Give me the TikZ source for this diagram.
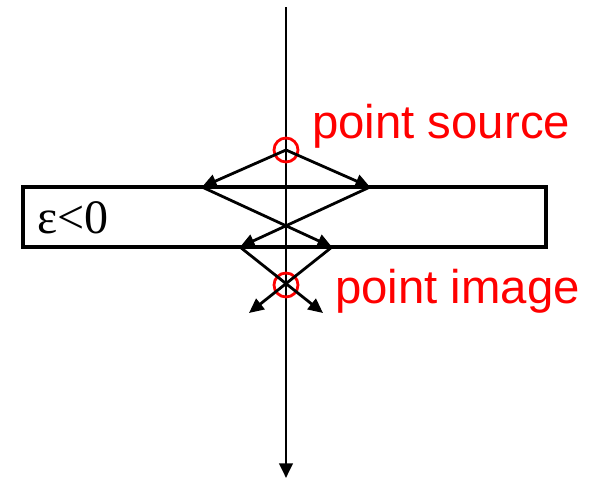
\documentclass[tikz,border=0pt]{standalone}
\usepackage{fontspec}
\setmainfont{Liberation Serif}
\newfontfamily\labelfont{Liberation Sans}
\usepackage{tikz}
\usetikzlibrary{arrows.meta}
\definecolor{marker}{HTML}{FF0000}

\begin{document}
\begin{tikzpicture}[x=0.75pt,y=-0.75pt,
  ray/.style={line width=2.1pt,-{Triangle[length=11pt,width=10pt]}},
  pointmark/.style={circle,draw=marker,line width=2.1pt,minimum size=18pt,inner sep=0pt},
  redlabel/.style={marker,inner sep=0pt,anchor=base west,font=\labelfont\fontsize{35.5}{40}\selectfont}]
\useasboundingbox (0,0) rectangle (593,480);
% optical axis
\coordinate (axtop) at (286,7);
\coordinate (axbot) at (286,478);
\draw[ray] (axtop)--(axbot);
% slab with negative permittivity
\draw[line width=2.8pt] (23,187) rectangle (546,247);
\node[inner sep=0pt,anchor=base west,font=\fontsize{36}{40}\selectfont] (eps) at (37,233) {ε<0};
% source and image
\node[pointmark] (src) at (286,150) {};
\node[pointmark] (img) at (286,285) {};
\node[redlabel] (srclabel) at (312,138) {point source};
\node[redlabel] (imglabel) at (335,303) {point image};
% ray points on the slab faces
\coordinate (inl) at (202,187);
\coordinate (inr) at (370,187);
\coordinate (outl) at (240,247);
\coordinate (outr) at (332,247);
\coordinate (endl) at (249,313);
\coordinate (endr) at (323,313);
\draw[ray] (src.center)--(inl);
\draw[ray] (src.center)--(inr);
\draw[ray] (inl)--(outr);
\draw[ray] (inr)--(outl);
\draw[ray] (outl)--(endr);
\draw[ray] (outr)--(endl);
\end{tikzpicture}
\end{document}
